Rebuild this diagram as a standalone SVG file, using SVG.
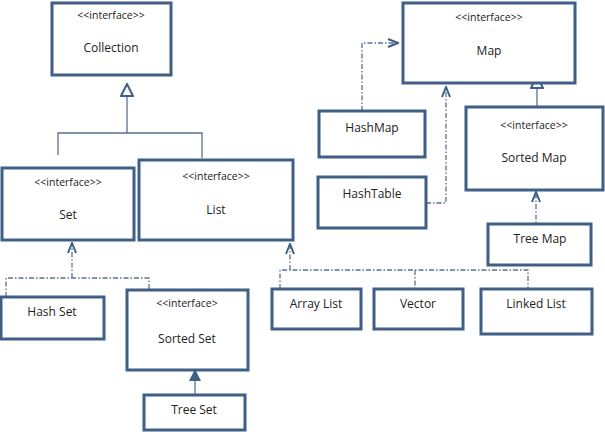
<svg xmlns="http://www.w3.org/2000/svg" width="605" height="434" viewBox="0 0 605 434">
<style>
.b{fill:#fff;stroke:#3f5f86;stroke-width:3}
.t{font-family:"Open Sans","DejaVu Sans",sans-serif;font-size:12px;fill:#222;text-anchor:middle}
.s{font-size:10.5px}
.c{fill:none;stroke:#5a7190;stroke-width:1.3}
.d{stroke-dasharray:5 2 1.5 2}
</style>
<defs>
<marker id="o" viewBox="0 0 12 10" refX="11" refY="5" markerWidth="12" markerHeight="10" markerUnits="userSpaceOnUse" orient="auto"><path d="M1,1 L11,5 L1,9" fill="none" stroke="#3f5f86" stroke-width="2"/></marker>
<marker id="h" viewBox="0 0 14 14" refX="13" refY="7" markerWidth="14" markerHeight="14" markerUnits="userSpaceOnUse" orient="auto"><path d="M1,1 L13,7 L1,13 Z" fill="#fff" stroke="#3f5f86" stroke-width="2"/></marker>
<marker id="f" viewBox="0 0 14 14" refX="13" refY="7" markerWidth="14" markerHeight="14" markerUnits="userSpaceOnUse" orient="auto"><path d="M1,1 L13,7 L1,13 Z" fill="#3f5f86"/></marker>
</defs>
<g id="connectors">
<path class="c" d="M127,133 V84" marker-end="url(#h)"/>
<path class="c" d="M58,155 V133 H202 V158"/>
<path class="c d" d="M72,278 V243" marker-end="url(#o)"/>
<path class="c d" d="M6,297 V278 H149 V290"/>
<path class="c d" d="M290,270 V244" marker-end="url(#o)"/>
<path class="c d" d="M280,289 V270 H528 V289"/>
<path class="c d" d="M415,270 V289"/>
<path class="c d" d="M362,111 V43 H398" marker-end="url(#o)"/>
<path class="c d" d="M426,203 H446 V87" marker-end="url(#o)"/>
<path class="c" d="M537,120 V76" marker-end="url(#h)"/>
<path class="c d" d="M536,230 V192" marker-end="url(#o)"/>
<path class="c" d="M195,395 V369" marker-end="url(#f)"/>
</g>
<g id="collection"><rect class="b" x="52" y="3" width="119" height="72"/><text class="t s" x="111" y="19">&lt;&lt;interface&gt;&gt;</text><text class="t" x="111" y="52">Collection</text></g>
<g id="map"><rect class="b" x="403" y="3" width="172" height="80"/><text class="t s" x="489" y="21">&lt;&lt;interface&gt;&gt;</text><text class="t" x="489" y="55">Map</text></g>
<g id="hashmap"><rect class="b" x="319" y="111" width="106" height="46"/><text class="t" x="372" y="132">HashMap</text></g>
<g id="hashtable"><rect class="b" x="318" y="177" width="108" height="51"/><text class="t" x="372" y="198">HashTable</text></g>
<g id="sortedmap"><rect class="b" x="466" y="107" width="137" height="83"/><text class="t s" x="534" y="129">&lt;&lt;interface&gt;&gt;</text><text class="t" x="534" y="162">Sorted Map</text></g>
<g id="treemap"><rect class="b" x="488" y="224" width="103" height="41"/><text class="t" x="540" y="243">Tree Map</text></g>
<g id="set"><rect class="b" x="2" y="168" width="132" height="72"/><text class="t s" x="68" y="186">&lt;&lt;interface&gt;&gt;</text><text class="t" x="68" y="219">Set</text></g>
<g id="list"><rect class="b" x="139" y="160" width="154" height="80"/><text class="t s" x="216" y="180">&lt;&lt;interface&gt;&gt;</text><text class="t" x="216" y="214">List</text></g>
<g id="hashset"><rect class="b" x="1" y="297" width="103" height="42"/><text class="t" x="52" y="316">Hash Set</text></g>
<g id="sortedset"><rect class="b" x="127" y="290" width="121" height="80"/><text class="t s" x="187" y="307">&lt;&lt;interface&gt;</text><text class="t" x="187" y="343">Sorted Set</text></g>
<g id="treeset"><rect class="b" x="144" y="395" width="101" height="35"/><text class="t" x="194" y="414">Tree Set</text></g>
<g id="arraylist"><rect class="b" x="272" y="289" width="89" height="40"/><text class="t" x="316" y="308">Array List</text></g>
<g id="vector"><rect class="b" x="374" y="289" width="89" height="40"/><text class="t" x="418" y="308">Vector</text></g>
<g id="linkedlist"><rect class="b" x="481" y="289" width="111" height="45"/><text class="t" x="536" y="308">Linked List</text></g>
</svg>
